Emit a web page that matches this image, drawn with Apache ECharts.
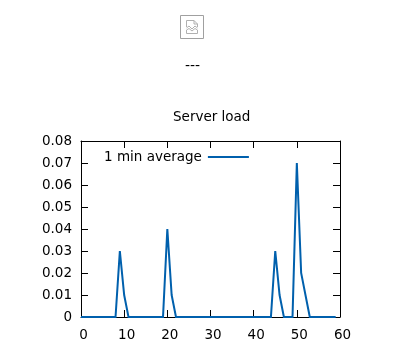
<!DOCTYPE html>
<html>
<head>
<meta charset="utf-8">
<style>
  html, body { margin: 0; padding: 0; background: #fff; }
  #chart { width: 397px; height: 364px; }
</style>
</head>
<body>
<div id="chart"></div>
<script src="https://cdn.jsdelivr.net/npm/echarts@6/dist/echarts.min.js"></script>
<script>
// minutes, one value per minute
const minutes = [0,1,2,3,4,5,6,7,8,9,10,11,12,13,14,15,16,17,18,19,20,21,22,23,24,25,26,27,28,29,
  30,31,32,33,34,35,36,37,38,39,40,41,42,43,44,45,46,47,48,49,50,51,52,53,54,55,56,57,58,59]
const load1min = [0,0,0,0,0,0,0,0,0,0.03,0.01,0,0,0,0,0,0,0,0,0,0.04,0.01,0,0,0,0,0,0,0,0,
  0,0,0,0,0,0,0,0,0,0,0,0,0,0,0,0.03,0.01,0,0,0,0.07,0.02,0.01,0,0,0,0,0,0,0]
const seriesName = '1 min average'
const titleText = 'Server load'
const FONT = '"DejaVu Sans", sans-serif'
const FONT_SIZE = 13.5

const chart = echarts.init(document.getElementById('chart'), null, { renderer: 'canvas' })

const tickStyle = { show: true, inside: true, length: 7, lineStyle: { color: '#000', width: 1 } }
const lineStyle = { show: true, onZero: false, lineStyle: { color: '#000', width: 1 } }

chart.setOption({
  animation: false,
  backgroundColor: '#fff',
  textStyle: { fontFamily: FONT },
  title: {
    text: titleText, left: 173, top: 110, padding: 0,
    textStyle: { fontFamily: FONT, fontSize: FONT_SIZE, fontWeight: 'normal', color: '#000' }
  },
  legend: {
    left: 104, top: 150, padding: 0, align: 'right', itemGap: 0,
    itemWidth: 41, itemHeight: 2, icon: 'rect',
    textStyle: { fontFamily: FONT, fontSize: FONT_SIZE, color: '#000', padding: [2, 1, 0, 0] },
    data: [seriesName]
  },
  grid: { left: 81, right: 57, top: 141, bottom: 47 },
  xAxis: [
    { type: 'value', min: 0, max: 60, interval: 10, position: 'bottom',
      axisLine: lineStyle, axisTick: tickStyle, splitLine: { show: false },
      axisLabel: { color: '#000', fontFamily: FONT, fontSize: FONT_SIZE, margin: 11, padding: [0, 0, 0, 5] } },
    { type: 'value', min: 0, max: 60, interval: 10, position: 'top',
      axisLine: lineStyle, axisTick: tickStyle, splitLine: { show: false },
      axisLabel: { show: false } }
  ],
  yAxis: [
    { type: 'value', min: 0, max: 0.08, interval: 0.01, position: 'left',
      axisLine: lineStyle, axisTick: tickStyle, splitLine: { show: false },
      axisLabel: { color: '#000', fontFamily: FONT, fontSize: FONT_SIZE, margin: 9, padding: [6, 0, 0, 0] } },
    { type: 'value', min: 0, max: 0.08, interval: 0.01, position: 'right',
      axisLine: lineStyle, axisTick: tickStyle, splitLine: { show: false },
      axisLabel: { show: false } }
  ],
  series: [{
    name: seriesName,
    type: 'line',
    data: minutes.map((m, i) => [m, load1min[i]]),
    showSymbol: false,
    symbol: 'none',
    itemStyle: { color: '#0060ad' },
    lineStyle: { color: '#0060ad', width: 2, join: 'miter' }
  }],
  graphic: [
    // missing image placeholder above the plot
    { type: 'rect', shape: { x: 180.5, y: 15.5, width: 23, height: 23 },
      style: { fill: '#fff', stroke: '#a0a0a0', lineWidth: 1 } },
    { type: 'polyline', shape: { points: [[186.5,27],[186.5,20.5],[194,20.5],[197.5,24],[197.5,27]] },
      style: { fill: 'none', stroke: '#b0b0b0', lineWidth: 1 } },
    { type: 'polyline', shape: { points: [[194,20.5],[194,24],[197.5,24]] },
      style: { fill: 'none', stroke: '#b0b0b0', lineWidth: 1 } },
    { type: 'polyline', shape: { points: [[186.5,28],[189,26],[192,29],[195,26],[197.5,28]] },
      style: { fill: 'none', stroke: '#b0b0b0', lineWidth: 1 } },
    { type: 'polyline', shape: { points: [[186.5,30],[189,28.5],[192,31],[195,28.5],[197.5,30],[197.5,33.5],[186.5,33.5],[186.5,30]] },
      style: { fill: 'none', stroke: '#b0b0b0', lineWidth: 1 } },
    { type: 'text', left: 185, top: 59,
      style: { text: '---', font: '14px "DejaVu Sans"', fill: '#000' } }
  ]
})
</script>
</body>
</html>
